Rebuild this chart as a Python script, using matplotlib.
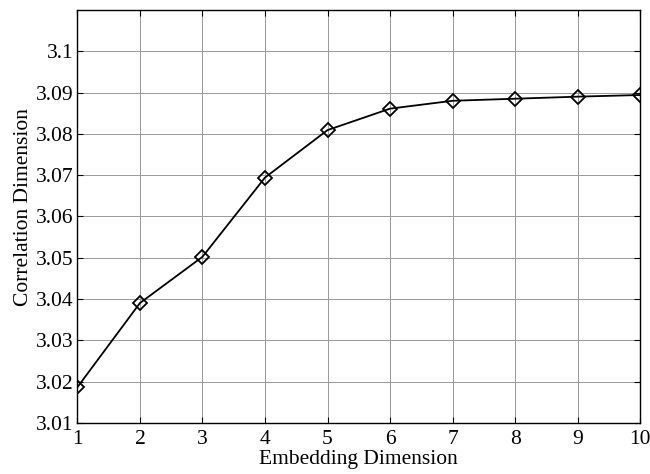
import matplotlib
matplotlib.use('Agg')
import matplotlib.pyplot as plt

plt.rcParams.update({
    'font.family': ['Liberation Serif', 'DejaVu Serif'],
    'font.size': 15.5,
})

# data
embedding_dim = [1, 2, 3, 4, 5, 6, 7, 8, 9, 10]
corr_dim = [3.0186, 3.0390, 3.0502, 3.0694, 3.0809, 3.0861, 3.0880, 3.0885, 3.0890, 3.0894]
y_ticks = [3.01, 3.02, 3.03, 3.04, 3.05, 3.06, 3.07, 3.08, 3.09, 3.1]
y_tick_labels = ['3.01', '3.02', '3.03', '3.04', '3.05', '3.06', '3.07', '3.08', '3.09', '3.1']

fig = plt.figure(figsize=(6.5, 4.74), dpi=100)
ax = fig.add_axes([0.119, 0.108, 0.866, 0.871])

ax.plot(embedding_dim, corr_dim, color='black', linewidth=1.3,
        marker='D', markersize=7, markerfacecolor='none',
        markeredgecolor='black', markeredgewidth=1.3, zorder=3)

ax.set_xlim(1, 10)
ax.set_ylim(3.01, 3.11)
ax.set_xticks(embedding_dim)
ax.set_yticks(y_ticks)
ax.set_yticklabels(y_tick_labels)

ax.grid(True, color='#999999', linewidth=0.7, linestyle='-')
ax.tick_params(axis='x', direction='in', top=True, length=4, width=0.8, pad=5)
ax.tick_params(axis='y', direction='in', right=True, length=4, width=0.8, pad=3)
for s in ax.spines.values():
    s.set_linewidth(1.0)

ax.set_xlabel('Embedding Dimension', labelpad=1)
ax.set_ylabel('Correlation Dimension', labelpad=2, y=0.522)

fig.savefig('out.png', dpi=100)
